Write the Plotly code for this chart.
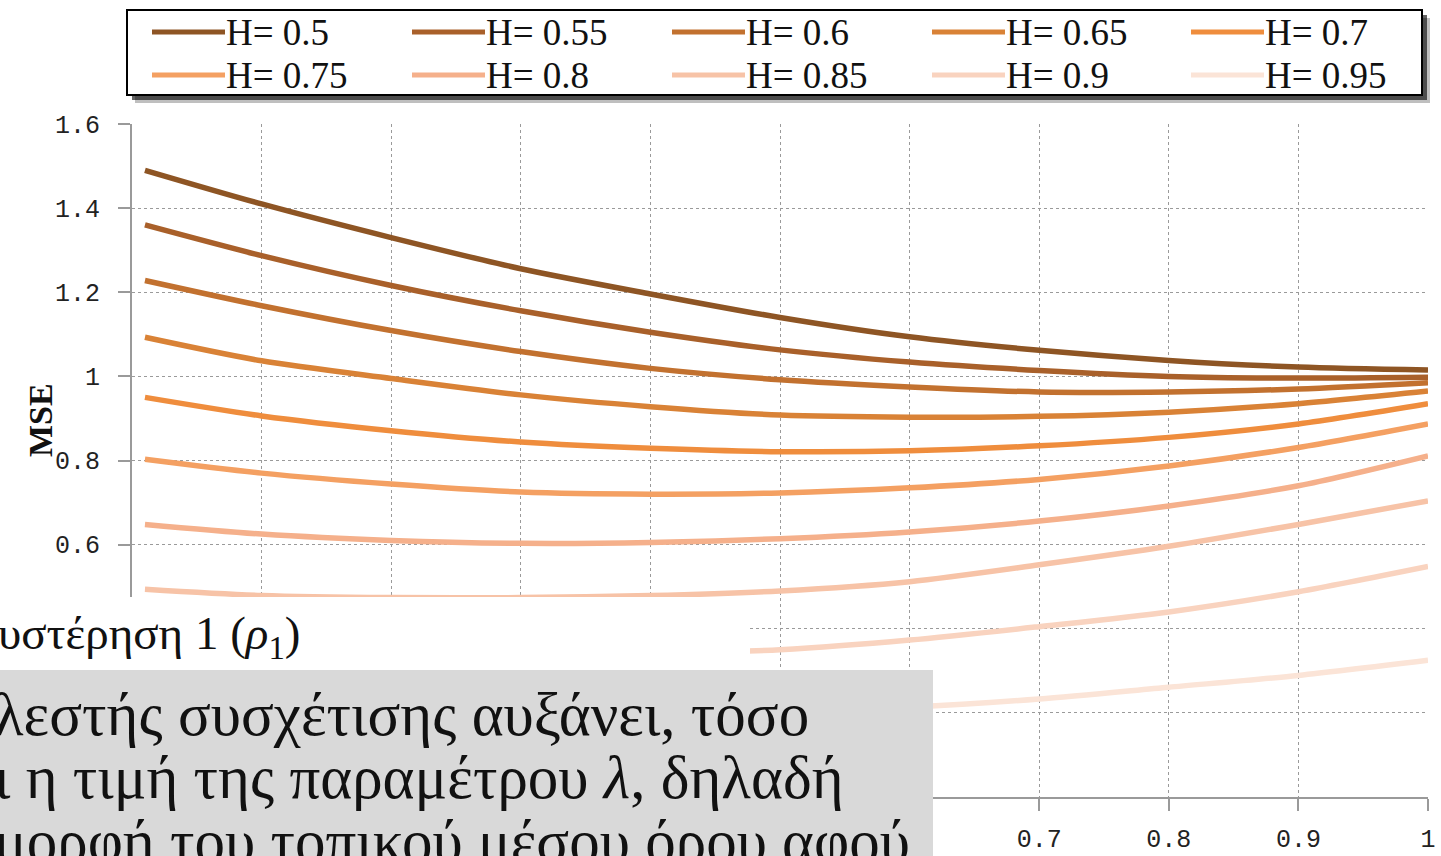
import plotly.graph_objects as go

W, H = 1441, 856

# ---- data ----
rho = [0.01, 0.1, 0.2, 0.3, 0.4, 0.5, 0.6, 0.7, 0.8, 0.9, 1.0]

h_labels = ["H= 0.5", "H= 0.55", "H= 0.6", "H= 0.65", "H= 0.7",
            "H= 0.75", "H= 0.8", "H= 0.85", "H= 0.9", "H= 0.95"]

mse_h050 = [1.49, 1.41, 1.33, 1.256, 1.196, 1.14, 1.094, 1.062, 1.038, 1.022, 1.015]
mse_h055 = [1.36, 1.287, 1.216, 1.156, 1.105, 1.063, 1.034, 1.014, 1.0, 0.996, 0.998]
mse_h060 = [1.228, 1.168, 1.109, 1.059, 1.019, 0.992, 0.975, 0.963, 0.963, 0.97, 0.985]
mse_h065 = [1.093, 1.037, 0.995, 0.956, 0.928, 0.908, 0.903, 0.905, 0.915, 0.935, 0.965]
mse_h070 = [0.95, 0.906, 0.871, 0.844, 0.829, 0.821, 0.823, 0.835, 0.855, 0.887, 0.935]
mse_h075 = [0.803, 0.77, 0.744, 0.725, 0.72, 0.723, 0.735, 0.755, 0.787, 0.831, 0.887]
mse_h080 = [0.648, 0.625, 0.61, 0.603, 0.605, 0.614, 0.63, 0.656, 0.692, 0.74, 0.811]
mse_h085 = [0.494, 0.479, 0.474, 0.474, 0.479, 0.49, 0.512, 0.552, 0.596, 0.648, 0.704]
mse_h090 = [0.35, 0.335, 0.33, 0.332, 0.34, 0.35, 0.373, 0.405, 0.44, 0.488, 0.548]
mse_h095 = [0.21, 0.2, 0.196, 0.196, 0.2, 0.205, 0.214, 0.233, 0.261, 0.289, 0.325]

series = [mse_h050, mse_h055, mse_h060, mse_h065, mse_h070,
          mse_h075, mse_h080, mse_h085, mse_h090, mse_h095]

colors = ["#8e5524", "#a9602a", "#c2712f", "#d98236", "#ef8d3d",
          "#f4a062", "#f5b08b", "#f7c3a7", "#f9d3bf", "#fbe4d7"]

x_tickvals = [0, 0.1, 0.2, 0.3, 0.4, 0.5, 0.6, 0.7, 0.8, 0.9, 1.0]
x_ticktext = ["", "", "", "", "", "", "", "0.7", "0.8", "0.9", "1"]   # left ones hidden by the grey box
y_tickvals = [0, 0.2, 0.4, 0.6, 0.8, 1.0, 1.2, 1.4, 1.6]
y_ticktext = ["", "", "", "0.6", "0.8", "1", "1.2", "1.4", "1.6"]      # low ones hidden by overlays

y_title = "MSE"
x_title_part = "υστέρηση 1 (<i>ρ</i><sub>1</sub>)"
gray_text_lines = ["λεστής συσχέτισης αυξάνει, τόσο",
                   "ι η τιμή της παραμέτρου <i>λ</i>, δηλαδή",
                   "μορφή του τοπικού μέσου όρου αφού"]

SERIF = "Liberation Serif, Times New Roman, DejaVu Serif, serif"


def px(x):
    return x / W


def py(y):
    return 1 - y / H


fig = go.Figure()
for name, ys, c in zip(h_labels, series, colors):
    fig.add_trace(go.Scatter(x=rho, y=ys, mode="lines", name=name,
                             line=dict(color=c, width=5.5, shape="spline", smoothing=0.8),
                             showlegend=False))

plot_l, plot_r, plot_t, plot_b = 132, 1428, 124, 797

grid = dict(showgrid=True, gridcolor="#9a9a9a", griddash="dot", gridwidth=1.3)
fig.update_layout(
    width=W, height=H, margin=dict(l=0, r=0, t=0, b=0, autoexpand=False),
    paper_bgcolor="white", plot_bgcolor="white",
    xaxis=dict(domain=[px(plot_l), px(plot_r)], range=[0, 1], automargin=False,
               tickmode="array", tickvals=x_tickvals, ticktext=x_ticktext,
               showline=True, linecolor="#9a9a9a", linewidth=2,
               ticks="outside", ticklen=12, tickcolor="#9a9a9a", tickwidth=2,
               tickfont=dict(family="Liberation Mono", size=25, color="#222"),
               ticklabelstandoff=6, zeroline=False, **grid),
    yaxis=dict(domain=[py(plot_b), py(plot_t)], range=[0, 1.6], automargin=False,
               tickmode="array", tickvals=y_tickvals, ticktext=y_ticktext,
               showline=True, linecolor="#9a9a9a", linewidth=2,
               ticks="outside", ticklen=12, tickcolor="#9a9a9a", tickwidth=2,
               tickfont=dict(family="Liberation Mono", size=25, color="#222"),
               ticklabelstandoff=13, zeroline=False, **grid),
)

shapes = []
annotations = []

# y axis title
annotations.append(dict(xref="paper", yref="paper", x=px(40), y=py(420), text="<b>" + y_title + "</b>",
                        textangle=-90, showarrow=False, xanchor="center", yanchor="middle",
                        font=dict(family=SERIF, size=34, color="#111")))

# legend box with shadow
lx0, ly0, lx1, ly1 = 127, 10, 1422, 95
shapes.append(dict(type="rect", xref="paper", yref="paper", layer="above",
                   x0=px(lx0 + 8), x1=px(lx1 + 8), y0=py(ly0 + 8), y1=py(ly1 + 8),
                   fillcolor="rgba(0,0,0,0.25)", line=dict(width=0)))
shapes.append(dict(type="rect", xref="paper", yref="paper", layer="above",
                   x0=px(lx0 + 5), x1=px(lx1 + 5), y0=py(ly0 + 5), y1=py(ly1 + 5),
                   fillcolor="rgba(0,0,0,0.6)", line=dict(width=0)))
shapes.append(dict(type="rect", xref="paper", yref="paper", layer="above",
                   x0=px(lx0), x1=px(lx1), y0=py(ly0), y1=py(ly1),
                   fillcolor="white", line=dict(color="black", width=2)))
col_x = [152, 412, 672, 932, 1191]
row_y = [32, 75]
for i, (name, c) in enumerate(zip(h_labels, colors)):
    cx = col_x[i % 5]
    ry = row_y[i // 5]
    shapes.append(dict(type="line", xref="paper", yref="paper", layer="above",
                       x0=px(cx), x1=px(cx + 73), y0=py(ry), y1=py(ry),
                       line=dict(color=c, width=5)))
    annotations.append(dict(xref="paper", yref="paper", x=px(cx + 72), y=py(ry + 1), text=name,
                            showarrow=False, xanchor="left", yanchor="middle",
                            font=dict(family=SERIF, size=37, color="#111")))

# white overlay with partial axis title
shapes.append(dict(type="rect", xref="paper", yref="paper", layer="above",
                   x0=0, x1=px(750), y0=py(597), y1=py(670),
                   fillcolor="white", line=dict(width=0)))
annotations.append(dict(xref="paper", yref="paper", x=px(-4), y=py(636), text=x_title_part,
                        showarrow=False, xanchor="left", yanchor="middle",
                        font=dict(family=SERIF, size=47, color="#111")))

# grey text box
shapes.append(dict(type="rect", xref="paper", yref="paper", layer="above",
                   x0=0, x1=px(933), y0=0, y1=py(670),
                   fillcolor="#d9d9d9", line=dict(width=0)))
for j, (t, yc) in enumerate(zip(gray_text_lines, [714, 777, 841])):
    annotations.append(dict(xref="paper", yref="paper", x=px(-8), y=py(yc), text=t,
                            showarrow=False, xanchor="left", yanchor="middle",
                            font=dict(family=SERIF, size=61, color="#111")))

fig.update_layout(shapes=shapes, annotations=annotations)
fig.write_html("out.html",
               post_script="document.body.style.margin='0';document.body.style.overflow='hidden';")
